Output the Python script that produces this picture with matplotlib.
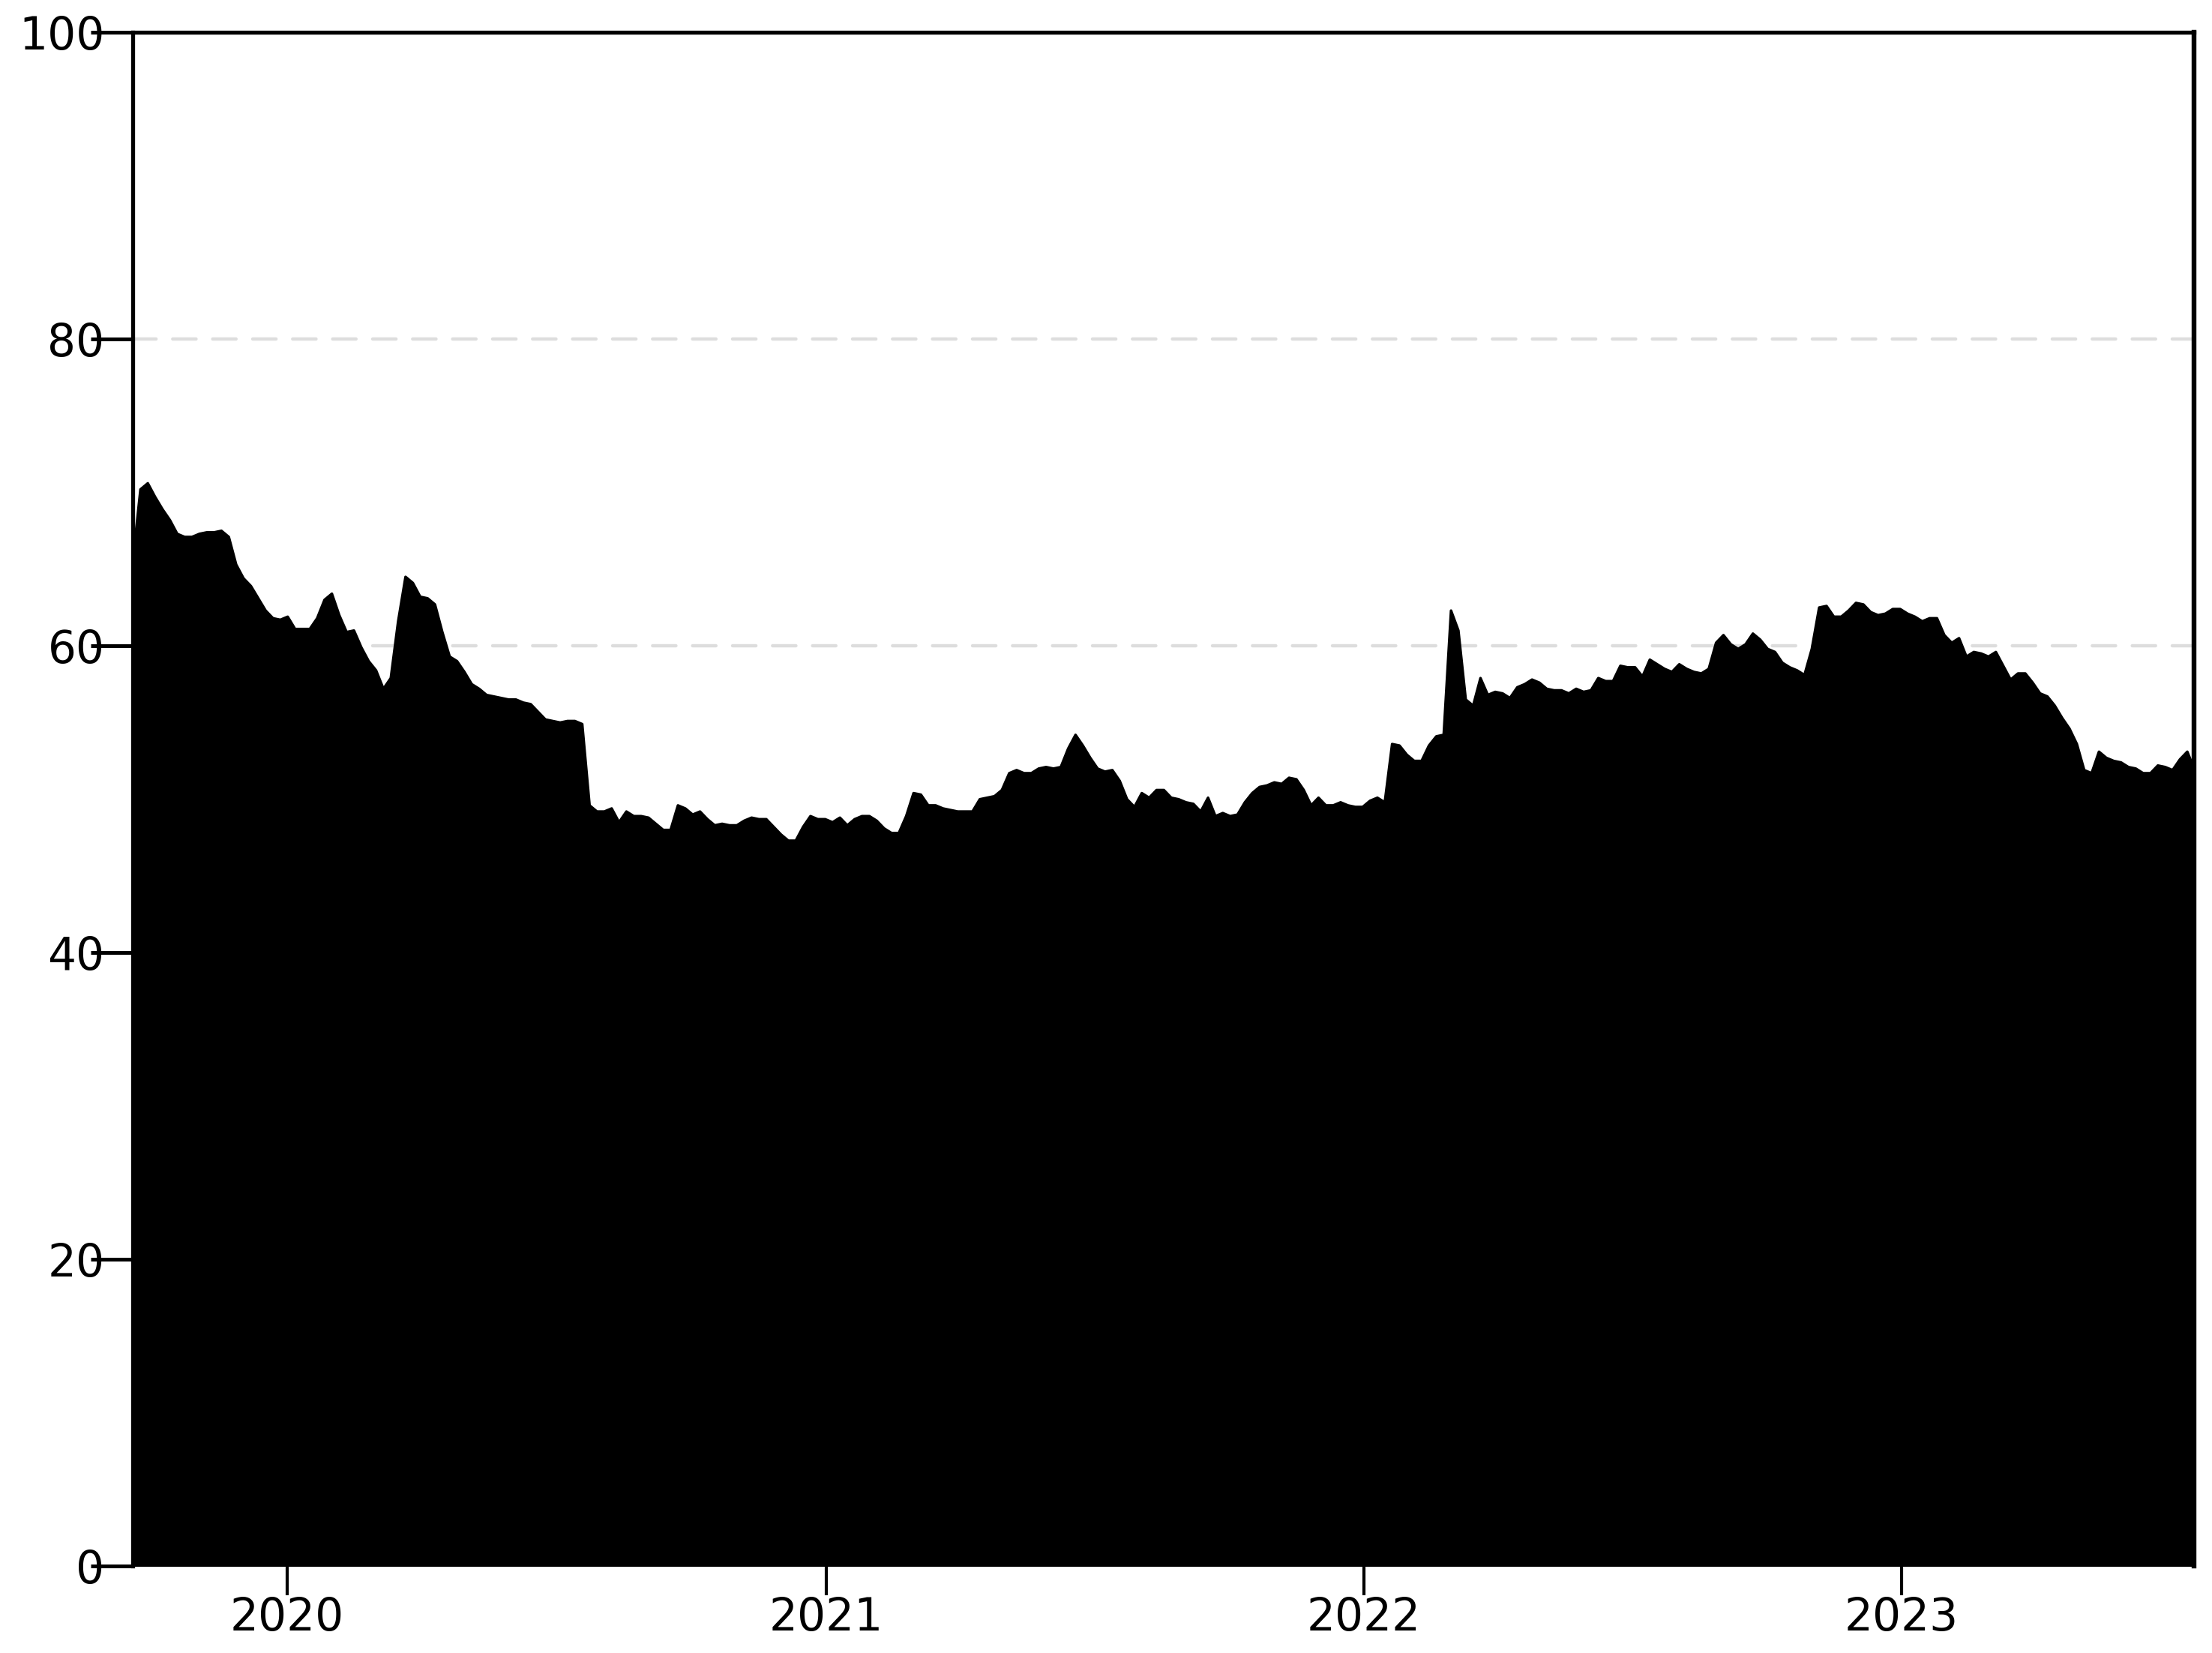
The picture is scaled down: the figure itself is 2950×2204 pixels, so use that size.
import matplotlib
matplotlib.use("Agg")
import matplotlib.pyplot as plt
import matplotlib.dates as mdates
import pandas as pd

start_date = "2019-09-18"
step = "5D"
values = [
    65.7, 70.2, 70.6, 69.7, 68.9, 68.2, 67.3, 67.1, 67.1, 67.3,
    67.4, 67.4, 67.5, 67.1, 65.3, 64.4, 63.9, 63.1, 62.3, 61.8,
    61.7, 61.9, 61.1, 61.1, 61.1, 61.8, 63.0, 63.4, 62.0, 60.9,
    61.0, 59.9, 59.0, 58.4, 57.2, 57.9, 61.6, 64.5, 64.1, 63.2,
    63.1, 62.7, 60.9, 59.3, 59.0, 58.3, 57.5, 57.2, 56.8, 56.7,
    56.6, 56.5, 56.5, 56.3, 56.2, 55.7, 55.2, 55.1, 55.0, 55.1,
    55.1, 54.9, 49.6, 49.2, 49.2, 49.4, 48.5, 49.2, 48.9, 48.9,
    48.8, 48.4, 48.0, 48.0, 49.6, 49.4, 49.0, 49.2, 48.7, 48.3,
    48.4, 48.3, 48.3, 48.6, 48.8, 48.7, 48.7, 48.2, 47.7, 47.3,
    47.3, 48.2, 48.9, 48.7, 48.7, 48.5, 48.8, 48.3, 48.7, 48.9,
    48.9, 48.6, 48.1, 47.8, 47.8, 48.9, 50.4, 50.3, 49.6, 49.6,
    49.4, 49.3, 49.2, 49.2, 49.2, 50.0, 50.1, 50.2, 50.6, 51.7,
    51.9, 51.7, 51.7, 52.0, 52.1, 52.0, 52.1, 53.3, 54.2, 53.5,
    52.7, 52.0, 51.8, 51.9, 51.2, 50.0, 49.5, 50.4, 50.1, 50.6,
    50.6, 50.1, 50.0, 49.8, 49.7, 49.2, 50.1, 48.9, 49.1, 48.9,
    49.0, 49.8, 50.4, 50.8, 50.9, 51.1, 51.0, 51.4, 51.3, 50.6,
    49.6, 50.1, 49.6, 49.6, 49.8, 49.6, 49.5, 49.5, 49.9, 50.1,
    49.8, 53.6, 53.5, 52.9, 52.5, 52.5, 53.5, 54.1, 54.2, 62.3,
    61.0, 56.5, 56.1, 57.9, 56.8, 57.0, 56.9, 56.6, 57.3, 57.5,
    57.8, 57.6, 57.2, 57.1, 57.1, 56.9, 57.2, 57.0, 57.1, 57.9,
    57.7, 57.7, 58.7, 58.6, 58.6, 58.0, 59.1, 58.8, 58.5, 58.3,
    58.8, 58.5, 58.3, 58.2, 58.5, 60.2, 60.7, 60.1, 59.8, 60.1,
    60.8, 60.4, 59.8, 59.6, 58.9, 58.6, 58.4, 58.1, 59.8, 62.5,
    62.6, 61.9, 61.9, 62.3, 62.8, 62.7, 62.2, 62.0, 62.1, 62.4,
    62.4, 62.1, 61.9, 61.6, 61.8, 61.8, 60.7, 60.2, 60.5, 59.3,
    59.6, 59.5, 59.3, 59.6, 58.7, 57.8, 58.2, 58.2, 57.6, 56.9,
    56.7, 56.1, 55.3, 54.6, 53.6, 51.9, 51.7, 53.1, 52.7, 52.5,
    52.4, 52.1, 52.0, 51.7, 51.7, 52.2, 52.1, 51.9, 52.6, 53.1,
    51.9,
]
y_ticks = [0, 20, 40, 60, 80, 100]

dates = pd.date_range(start_date, periods=len(values), freq=step)

fig = plt.figure(figsize=(29.5, 22.04), dpi=100)
ax = fig.add_axes([0.060, 0.0527, 0.932, 0.928])

ax.fill_between(dates, values, 0, color="black", lw=2.5, zorder=2)

ax.set_xlim(dates[0], dates[-1])
ax.set_ylim(0, 100)
ax.set_yticks(y_ticks)
ax.xaxis.set_major_locator(mdates.YearLocator())
ax.xaxis.set_major_formatter(mdates.DateFormatter("%Y"))

ax.yaxis.grid(True, color="#dddddd", lw=3.2, linestyle=(0, (7, 5)),
              dash_capstyle="round", zorder=0)
ax.set_axisbelow(True)

for side in ["left", "top"]:
    ax.spines[side].set_linewidth(3.8)
ax.spines["right"].set_linewidth(4.6)
ax.spines["bottom"].set_visible(False)

ax.tick_params(axis="y", length=40, width=3.6, pad=-13, labelsize=43)
ax.tick_params(axis="x", length=28, width=3.0, pad=1, labelsize=43)

fig.savefig("out.png", dpi=100)
